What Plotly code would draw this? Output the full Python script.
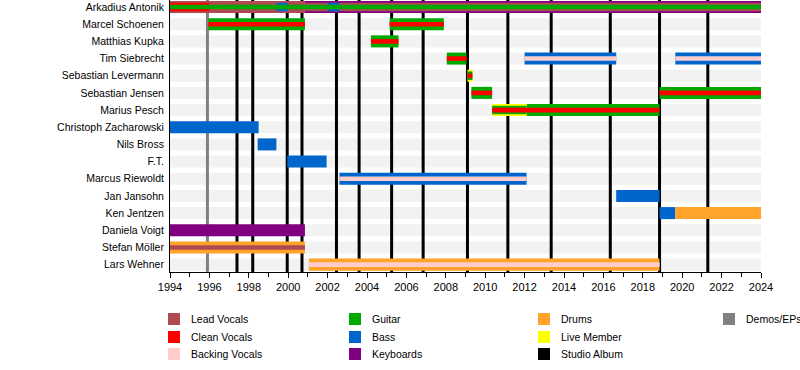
import plotly.graph_objects as go

# ---------------- data ----------------
members = ["Arkadius Antonik", "Marcel Schoenen", "Matthias Kupka", "Tim Siebrecht",
           "Sebastian Levermann", "Sebastian Jensen", "Marius Pesch",
           "Christoph Zacharowski", "Nils Bross", "F.T.", "Marcus Riewoldt",
           "Jan Jansohn", "Ken Jentzen", "Daniela Voigt", "Stefan Möller", "Lars Wehner"]

roles = ["Lead Vocals", "Clean Vocals", "Backing Vocals", "Guitar", "Bass",
         "Keyboards", "Drums", "Live Member", "Studio Album", "Demos/EPs"]
role_colors = ["#b04a52", "#ff0000", "#ffcccc", "#00aa00", "#0066cc",
               "#800080", "#ffa32a", "#ffff00", "#000000", "#808080"]

# (member, role, start, end) -- outer (widest) bars
primary = [
    ("Arkadius Antonik", "Lead Vocals", 1994, 2000.85),
    ("Arkadius Antonik", "Keyboards", 2000.85, 2024),
    ("Marcel Schoenen", "Guitar", 1995.95, 2000.85),
    ("Marcel Schoenen", "Guitar", 2005.15, 2007.9),
    ("Matthias Kupka", "Guitar", 2004.2, 2005.6),
    ("Tim Siebrecht", "Guitar", 2008.05, 2009.05),
    ("Tim Siebrecht", "Bass", 2012.0, 2016.65),
    ("Tim Siebrecht", "Bass", 2019.65, 2024),
    ("Sebastian Levermann", "Live Member", 2009.1, 2009.35),
    ("Sebastian Jensen", "Guitar", 2009.3, 2010.35),
    ("Sebastian Jensen", "Guitar", 2018.85, 2024),
    ("Marius Pesch", "Live Member", 2010.35, 2012.1),
    ("Marius Pesch", "Guitar", 2012.1, 2018.85),
    ("Christoph Zacharowski", "Bass", 1994, 1998.5),
    ("Nils Bross", "Bass", 1998.45, 1999.4),
    ("F.T.", "Bass", 1999.95, 2001.95),
    ("Marcus Riewoldt", "Bass", 2002.6, 2012.1),
    ("Jan Jansohn", "Bass", 2016.65, 2018.85),
    ("Ken Jentzen", "Bass", 2018.85, 2019.65),
    ("Ken Jentzen", "Drums", 2019.65, 2024),
    ("Daniela Voigt", "Keyboards", 1994, 2000.85),
    ("Stefan Möller", "Drums", 1994, 2000.85),
    ("Lars Wehner", "Drums", 2001.05, 2018.85),
]
# middle bars
secondary = [
    ("Arkadius Antonik", "Clean Vocals", 1994, 1996.0),
    ("Arkadius Antonik", "Lead Vocals", 2000.85, 2024),
    ("Arkadius Antonik", "Bass", 1999.4, 2000.0),
    ("Arkadius Antonik", "Bass", 2002.0, 2002.6),
    ("Sebastian Levermann", "Guitar", 2009.1, 2009.35),
    ("Marius Pesch", "Guitar", 2010.35, 2012.1),
]
# inner (narrowest) bars
tertiary = [
    ("Arkadius Antonik", "Guitar", 1994, 2024),
    ("Marcel Schoenen", "Clean Vocals", 1995.95, 2000.85),
    ("Marcel Schoenen", "Clean Vocals", 2005.15, 2007.9),
    ("Matthias Kupka", "Clean Vocals", 2004.2, 2005.6),
    ("Tim Siebrecht", "Clean Vocals", 2008.05, 2009.05),
    ("Tim Siebrecht", "Backing Vocals", 2012.0, 2016.65),
    ("Tim Siebrecht", "Backing Vocals", 2019.65, 2024),
    ("Sebastian Levermann", "Clean Vocals", 2009.1, 2009.35),
    ("Sebastian Jensen", "Clean Vocals", 2009.3, 2010.35),
    ("Sebastian Jensen", "Clean Vocals", 2018.85, 2024),
    ("Marius Pesch", "Clean Vocals", 2010.35, 2018.85),
    ("Marcus Riewoldt", "Backing Vocals", 2002.6, 2012.1),
    ("Stefan Möller", "Lead Vocals", 1994, 2000.85),
    ("Lars Wehner", "Backing Vocals", 2001.05, 2018.85),
]

studio_albums = [1997.4, 1998.2, 1999.95, 2000.7, 2002.45, 2003.6, 2005.25, 2006.85,
                 2009.1, 2011.15, 2013.35, 2016.35, 2018.85, 2021.3]
demos = [1995.9]

year_start, year_end = 1994, 2024
tick_years = list(range(1994, 2025, 2))

# ---------------- figure ----------------
W, H = 800, 370
ML, MR, MT, MB = 170, 39, 0, 98
PW, PH = W - ML - MR, H - MT - MB
Y_RANGE = [15.43, -0.41]
color_of = dict(zip(roles, role_colors))
idx = {m: i for i, m in enumerate(members)}

fig = go.Figure()
layer_widths = [0.70, 0.50, 0.27]
for layer, width in zip([primary, secondary, tertiary], layer_widths):
    for role in roles:
        rows = [p for p in layer if p[1] == role]
        if not rows:
            continue
        fig.add_trace(go.Bar(
            orientation="h",
            y=[idx[r[0]] for r in rows],
            base=[r[2] for r in rows],
            x=[r[3] - r[2] for r in rows],
            width=[width] * len(rows),
            marker=dict(color=color_of[role], line=dict(width=0)),
            showlegend=False, hoverinfo="skip",
        ))

shapes = []
# background stripes per member
for i, m in enumerate(members):
    shapes.append(dict(type="rect", xref="x", yref="y", layer="below",
                       x0=year_start, x1=year_end, y0=i - 0.35, y1=i + 0.35,
                       fillcolor="#f2f2f2", line=dict(width=0)))
# release lines (same subplot layer, drawn after the stripes)
for yr in demos:
    shapes.append(dict(type="line", xref="x", yref="y", layer="below",
                       x0=yr, x1=yr, y0=Y_RANGE[0], y1=Y_RANGE[1],
                       line=dict(color=color_of["Demos/EPs"], width=3)))
for yr in studio_albums:
    shapes.append(dict(type="line", xref="x", yref="y", layer="below",
                       x0=yr, x1=yr, y0=Y_RANGE[0], y1=Y_RANGE[1],
                       line=dict(color=color_of["Studio Album"], width=3)))

# custom legend (4 columns, 3 rows, column-wise)
def px_to_paper(px, py):
    return (px - ML) / PW, (MT + PH - py) / PH

col_sw_x = [168, 349, 538, 723]
row_y = [319, 337, 354]
annotations = []
for k, (role, col) in enumerate(zip(roles, role_colors)):
    c, r = k // 3, k % 3
    sx, sy = col_sw_x[c], row_y[r]
    x0, y0 = px_to_paper(sx, sy + 6)
    x1, y1 = px_to_paper(sx + 12, sy - 6)
    shapes.append(dict(type="rect", xref="paper", yref="paper",
                       x0=x0, x1=x1, y0=y0, y1=y1,
                       fillcolor=col, line=dict(width=0)))
    tx, ty = px_to_paper(sx + 21, sy)
    annotations.append(dict(xref="paper", yref="paper", x=tx, y=ty, text=role,
                            showarrow=False, xanchor="left", yanchor="middle",
                            font=dict(size=10.5, color="#000")))

fig.update_layout(
    width=W, height=H,
    margin=dict(l=ML, r=MR, t=MT, b=MB, autoexpand=False),
    barmode="overlay",
    plot_bgcolor="white", paper_bgcolor="white",
    font=dict(family="Liberation Sans, Arial, sans-serif", size=11, color="#000"),
    shapes=shapes, annotations=annotations,
    showlegend=False,
)
fig.update_xaxes(range=[year_start, year_end], tickvals=tick_years,
                 ticktext=[str(y) for y in tick_years], automargin=False,
                 tickfont=dict(size=11),
                 showgrid=False, zeroline=False, showline=True, linecolor="#000",
                 linewidth=1, ticks="outside", ticklen=5, tickcolor="#000",
                 minor=dict(dtick=1, tick0=1994, ticks="outside", ticklen=4,
                            tickcolor="#000", showgrid=False))
fig.update_yaxes(range=Y_RANGE, tickvals=list(range(len(members))),
                 ticktext=members, showgrid=False, zeroline=False, automargin=False,
                 tickfont=dict(size=10.5), ticklabelstandoff=3,
                 showline=True, linecolor="#000", linewidth=1, ticks="")

fig.write_html("out.html", config={"displayModeBar": False},
               post_script="document.body.style.margin='0';document.body.style.padding='0';")
